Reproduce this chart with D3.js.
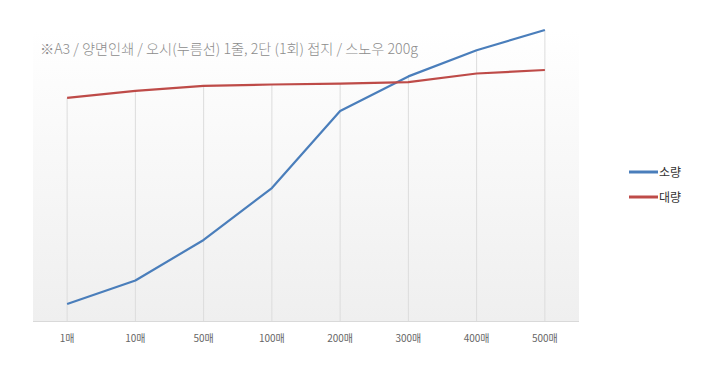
<!DOCTYPE html>
<html>
<head>
<meta charset="utf-8">
<script src="https://cdn.jsdelivr.net/npm/d3@7"></script>
<style>
  body { margin: 0; background: #fff; }
  text { font-family: "Noto Sans CJK KR", "Noto Sans", sans-serif; }
</style>
</head>
<body>
<script>
// categories and series
var categories = ["1매", "10매", "50매", "100매", "200매", "300매", "400매", "500매"];
var small = [5.5, 13.6, 27.6, 45.5, 72.1, 84.0, 93.0, 100];   // 소량
var large = [76.6, 79.0, 80.7, 81.2, 81.5, 82.0, 85.0, 86.2]; // 대량
var seriesNames = ["소량", "대량"];
var seriesColors = ["#4a7ebb", "#be4b48"];
var note = "※A3 / 양면인쇄 / 오시(누름선) 1줄, 2단 (1회) 접지 / 스노우 200g";

var width = 720, height = 384;
var plot = {left: 33, right: 579, top: 30, bottom: 321};

var svg = d3.select("body").append("svg")
  .attr("width", width)
  .attr("height", height);

// background gradient
var grad = svg.append("defs").append("linearGradient")
  .attr("id", "bg").attr("x1", 0).attr("y1", 0).attr("x2", 0).attr("y2", 1);
grad.append("stop").attr("offset", "0%").attr("stop-color", "#ffffff");
grad.append("stop").attr("offset", "100%").attr("stop-color", "#efefef");

svg.append("rect")
  .attr("x", plot.left).attr("y", plot.top)
  .attr("width", plot.right - plot.left).attr("height", plot.bottom - plot.top)
  .attr("fill", "url(#bg)");

var xScale = d3.scaleBand().domain(categories).range([plot.left, plot.right]);
var yScale = d3.scaleLinear().domain([0, 100]).range([plot.bottom - 1, plot.top]);

function cx(d) { return xScale(d) + xScale.bandwidth() / 2; }

// drop lines from highest point down to the axis
svg.selectAll("line.drop")
  .data(categories).enter()
  .append("line")
  .attr("class", "drop")
  .attr("x1", cx).attr("x2", cx)
  .attr("y1", function(d, i) { return yScale(Math.max(small[i], large[i])); })
  .attr("y2", plot.bottom)
  .attr("stroke", "#dcdcdc")
  .attr("stroke-width", 1);

// axis line
svg.append("line")
  .attr("x1", plot.left).attr("x2", plot.right)
  .attr("y1", plot.bottom + 0.5).attr("y2", plot.bottom + 0.5)
  .attr("stroke", "#d9d9d9");

// x labels
svg.selectAll("text.xlab")
  .data(categories).enter()
  .append("text")
  .attr("class", "xlab")
  .attr("x", cx)
  .attr("y", 342)
  .attr("text-anchor", "middle")
  .attr("font-size", 10)
  .attr("fill", "#666")
  .text(function(d) { return d; });

// lines
var line = d3.line()
  .x(function(d, i) { return cx(categories[i]); })
  .y(function(d) { return yScale(d); });

[small, large].forEach(function(s, k) {
  svg.append("path")
    .datum(s)
    .attr("d", line)
    .attr("fill", "none")
    .attr("stroke", seriesColors[k])
    .attr("stroke-width", 2.2)
    .attr("stroke-linejoin", "round");
});

// note
svg.append("text")
  .attr("x", 40).attr("y", 54)
  .attr("font-size", 14.2)
  .attr("fill", "#8c8c8c")
  .attr("font-weight", 300)
  .text(note);

// legend
var legend = svg.selectAll("g.legend")
  .data(seriesNames).enter()
  .append("g")
  .attr("class", "legend")
  .attr("transform", function(d, i) { return "translate(629," + (172 + i * 25) + ")"; });

legend.append("line")
  .attr("x1", 0).attr("x2", 29)
  .attr("stroke", function(d, i) { return seriesColors[i]; })
  .attr("stroke-width", 3);

legend.append("text")
  .attr("x", 30).attr("y", 4.5)
  .attr("font-size", 12)
  .attr("fill", "#333")
  .text(function(d) { return d; });
</script>
</body>
</html>
